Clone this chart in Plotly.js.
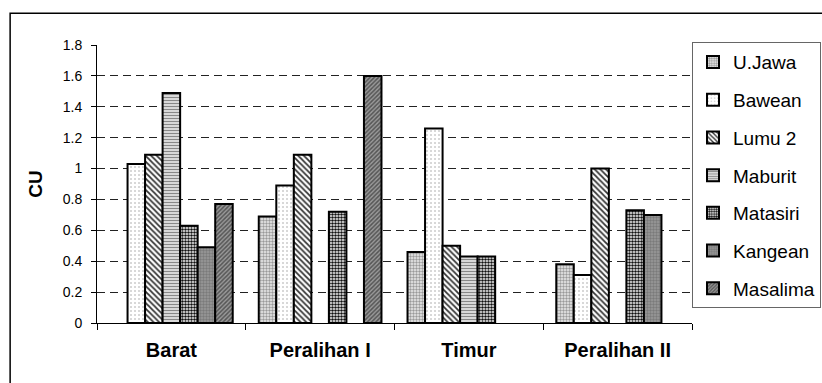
<!DOCTYPE html>
<html>
<head>
<meta charset="utf-8">
<script src="https://cdn.plot.ly/plotly-3.0.1.min.js"></script>
<style>
html,body{margin:0;padding:0;background:#fff;}
#chart{width:822px;height:383px;}
</style>
</head>
<body>
<div id="chart"></div>
<script>
var categories = ["Barat", "Peralihan I", "Timur", "Peralihan II"];
var seriesNames = ["U.Jawa", "Bawean", "Lumu 2", "Maburit", "Matasiri", "Kangean", "Masalima"];
var uJawa    = [null, 0.69, 0.46, 0.38];
var bawean   = [1.03, 0.89, 1.26, 0.31];
var lumu2    = [1.09, 1.09, 0.50, 1.00];
var maburit  = [1.49, null, 0.43, null];
var matasiri = [0.63, 0.72, 0.43, 0.73];
var kangean  = [0.49, null, null, 0.70];
var masalima = [0.77, 1.60, null, null];
var yTicks = [0, 0.2, 0.4, 0.6, 0.8, 1, 1.2, 1.4, 1.6, 1.8];
var yTickLabels = ["0", "0.2", "0.4", "0.6", "0.8", "1", "1.2", "1.4", "1.6", "1.8"];

var seriesValues = [uJawa, bawean, lumu2, maburit, matasiri, kangean, masalima];
var styles = [
  {color: "#e4e4e4", pattern: {shape: ".", fgcolor: "#999", bgcolor: "#eee", size: 3, solidity: 0.5}},
  {color: "#fafafa", pattern: {shape: ".", fgcolor: "#ccc", bgcolor: "#fff", size: 4, solidity: 0.2}},
  {color: "#b0b0b0", pattern: {shape: "\\", fgcolor: "#333", bgcolor: "#fff", size: 4, solidity: 0.45}},
  {color: "#b8b8b8", pattern: {shape: "-", fgcolor: "#888", bgcolor: "#fff", size: 3, solidity: 0.55}},
  {color: "#606060", pattern: {shape: ".", fgcolor: "#111", bgcolor: "#fff", size: 3, solidity: 0.55}},
  {color: "#888888", pattern: {shape: ".", fgcolor: "#7a7a7a", bgcolor: "#9a9a9a", size: 3, solidity: 0.5}},
  {color: "#777777", pattern: {shape: "/", fgcolor: "#555", bgcolor: "#9a9a9a", size: 3, solidity: 0.5}}
];

var traces = seriesNames.map(function(name, i){
  return {
    type: "bar",
    name: name,
    x: categories,
    y: seriesValues[i],
    legendgroup: "g" + i,
    marker: {
      color: styles[i].color,
      pattern: styles[i].pattern,
      line: {color: "#000", width: 2}
    },
    hoverinfo: "x+y+name"
  };
});

var layout = {
  width: 822, height: 383,
  margin: {l: 97, r: 130, t: 45, b: 60, pad: 0, autoexpand: false},
  paper_bgcolor: "#fff",
  plot_bgcolor: "#fff",
  font: {family: "Liberation Sans, Arial, sans-serif", color: "#000"},
  barmode: "group",
  bargap: 0.175,
  bargroupgap: 0,
  showlegend: true,
  legend: {
    x: 1.0, xanchor: "left", y: 1.01, yanchor: "top",
    bordercolor: "#666", borderwidth: 1, bgcolor: "#fff",
    font: {size: 19, family: "Liberation Sans, Arial, sans-serif"},
    traceorder: "grouped", tracegroupgap: 10,
    itemwidth: 30,
    maxheight: 320
  },
  xaxis: {
    type: "category",
    showline: true, linecolor: "#000", linewidth: 1,
    ticks: "outside", tickson: "boundaries", ticklen: 6, tickcolor: "#000",
    showgrid: false,
    tickfont: {size: 20, family: "Liberation Sans, Arial, sans-serif", weight: "bold"},
    ticklabelstandoff: 9
  },
  yaxis: {
    range: [0, 1.8],
    tickvals: yTicks, ticktext: yTickLabels,
    showline: true, linecolor: "#000", linewidth: 1,
    ticks: "outside", ticklen: 5, tickcolor: "#000",
    showgrid: true, gridcolor: "#222", gridwidth: 1, griddash: "8px,5px",
    zeroline: false,
    tickfont: {size: 14},
    ticklabelstandoff: 6,
    title: {text: "<b>CU</b>", font: {size: 19}, standoff: 15}
  },
  shapes: [{
    type: "rect", xref: "paper", yref: "paper",
    x0: -0.146, x1: 1.25, y0: -0.25, y1: 1.114,
    line: {color: "#000", width: 1.5}, fillcolor: "rgba(0,0,0,0)", layer: "below"
  }]
};

Plotly.newPlot("chart", traces, layout, {displayModeBar: false, staticPlot: true});
</script>
</body>
</html>
